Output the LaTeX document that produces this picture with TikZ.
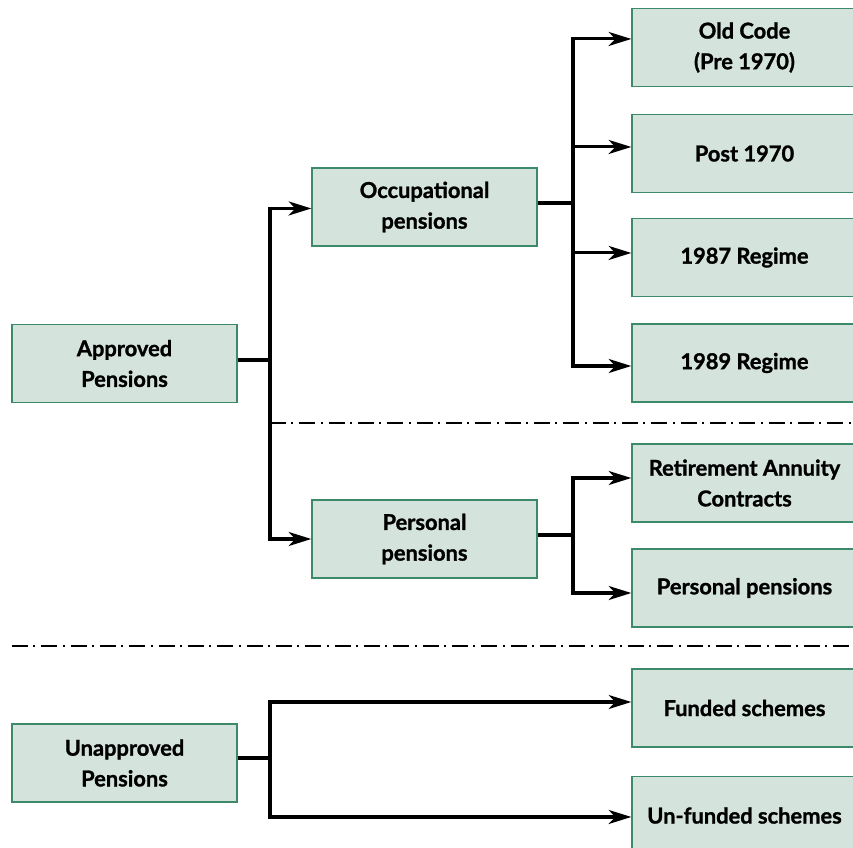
\documentclass[tikz,border=0pt]{standalone}
\usepackage{fontspec}
\setmainfont{Lato}[BoldFeatures={FakeBold=1.2}]
\usetikzlibrary{arrows.meta}
\definecolor{boxfill}{HTML}{D4E4DD}
\definecolor{boxline}{HTML}{3D8A6A}
\begin{document}
\begin{tikzpicture}[x=0.75pt,y=-0.75pt,
  box/.style={draw=boxline, fill=boxfill, line width=1pt, minimum width=168.75pt,
    minimum height=58.5pt, align=center, inner sep=0pt,
    font=\bfseries\fontsize{16.4}{23}\selectfont},
  wire/.style={line width=2.3pt, black},
  arr/.style={wire, -{Stealth[length=17pt,width=10.5pt,inset=5pt]}},
  sep/.style={line width=2.2pt, dash pattern=on 12pt off 4pt on 1.5pt off 4.5pt}]
\useasboundingbox (0,0) rectangle (853,848);
\clip (0,0) rectangle (853,848);

\node[box] (ap)   at (124.5,363.5) {Approved\\Pensions};
\node[box] (occ)  at (424.5,207)   {Occupational\\pensions};
\node[box] (pp)   at (424.5,539)   {Personal\\pensions};
\node[box] (ua)   at (124.5,763)   {Unapproved\\Pensions};
\node[box] (old)  at (744.5,47.5)  {Old Code\\(Pre 1970)};
\node[box] (post) at (744.5,153.5) {Post 1970};
\node[box] (r87)  at (744.5,257.5) {1987 Regime};
\node[box] (r89)  at (744.5,363)   {1989 Regime};
\node[box] (rac)  at (744.5,483)   {Retirement Annuity\\Contracts};
\node[box] (ppc)  at (744.5,588)   {Personal pensions};
\node[box] (fund) at (744.5,708)   {Funded schemes};
\node[box] (unf)  at (744.5,815.5) {Un-funded schemes};

\coordinate (t1) at (270,0);
\coordinate (t2) at (573,0);

% approved
\draw[wire] ([yshift=2.6pt]ap.east) -- ([yshift=2.6pt]ap.east -| t1);
\draw[arr] ([yshift=2.6pt]ap.east -| t1) |- ([yshift=-1.1pt]occ.west);
\draw[arr] ([yshift=2.6pt]ap.east -| t1) |- (pp.west);

% occupational
\draw[wire] ([yshift=3pt]occ.east) -- ([yshift=3pt]occ.east -| t2);
\draw[arr] ([yshift=3pt]occ.east -| t2) |- ([yshift=6.4pt]old.west);
\draw[arr] ([yshift=3pt]occ.east -| t2) |- ([yshift=4.9pt]post.west);
\draw[arr] ([yshift=3pt]occ.east -| t2) |- ([yshift=3.4pt]r87.west);
\draw[arr] ([yshift=3pt]occ.east -| t2) |- ([yshift=-2.25pt]r89.west);

% personal
\draw[wire] ([yshift=3pt]pp.east) -- ([yshift=3pt]pp.east -| t2);
\draw[arr] ([yshift=3pt]pp.east -| t2) |- ([yshift=3.75pt]rac.west);
\draw[arr] ([yshift=3pt]pp.east -| t2) |- ([yshift=-3.75pt]ppc.west);

% unapproved
\draw[wire] ([yshift=3.75pt]ua.east) -- ([yshift=3.75pt]ua.east -| t1);
\draw[arr] ([yshift=3.75pt]ua.east -| t1) |- ([yshift=4.5pt]fund.west);
\draw[arr] ([yshift=3.75pt]ua.east -| t1) |- ([yshift=-1.1pt]unf.west);

% separators
\coordinate (d1a) at (270,423);
\coordinate (d1b) at (853,423);
\coordinate (d2a) at (12,646);
\coordinate (d2b) at (853,646);
\draw[sep] (d1a) -- (d1b);
\draw[sep] (d2a) -- (d2b);
\end{tikzpicture}
\end{document}
